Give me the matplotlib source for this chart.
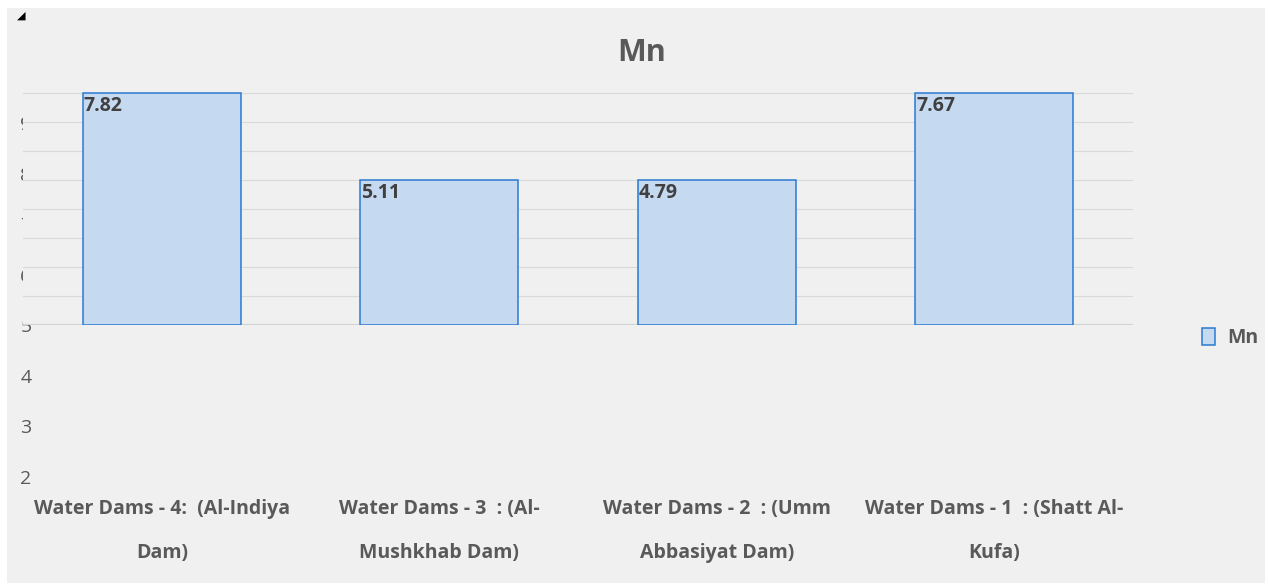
import matplotlib
matplotlib.use('Agg')
import matplotlib.pyplot as plt
from matplotlib.patches import Rectangle
import numpy as np

plt.rcParams['font.family'] = ['Open Sans', 'DejaVu Sans']

# data
categories = ['Water Dams - 4:  (Al-Indiya\nDam)',
              'Water Dams - 3  : (Al-\nMushkhab Dam)',
              'Water Dams - 2  : (Umm\nAbbasiyat Dam)',
              'Water Dams - 1  : (Shatt Al-\nKufa)']
mn_values = [7.82, 5.11, 4.79, 7.67]
bar_tops = [9.0, 7.5, 7.5, 9.0]      # drawn heights as they appear on the chart
base = 5.0
upper_grid = np.arange(5, 9.01, 0.5)
lower_ticks = [2, 3, 4, 5, 6, 7, 8, 9]

W, H = 1270, 584
fig = plt.figure(figsize=(W / 100, H / 100), dpi=100, facecolor='white')
fig.patches.append(Rectangle((7 / W, 1 - 583 / H), (1265 - 7) / W, (583 - 8) / H,
                             transform=fig.transFigure, facecolor='#f0f0f0',
                             edgecolor='none', zorder=-5))

grey = '#595959'
x = np.arange(len(categories))

# lower axes: tick labels and category labels
ax_lo = fig.add_axes([23 / W, 1 - 500 / H, (1133 - 23) / W, (500 - 85) / H])
ax_lo.set_facecolor('none')
ax_lo.set_xlim(-0.5, 3.5)
ax_lo.set_ylim(2 - 23 / 50.5, 5 + 240 / 50.5)
ax_lo.set_yticks(lower_ticks)
ax_lo.set_xticks(x)
ax_lo.set_xticklabels(categories, fontsize=14, fontweight='bold', color=grey,
                      linespacing=2.65)
ax_lo.tick_params(axis='y', length=0, pad=-6.2, labelsize=14, labelcolor=grey)
ax_lo.tick_params(axis='x', length=0, pad=-1)
for s in ax_lo.spines.values():
    s.set_visible(False)

# upper axes: bars and gridlines (covers the crowded tick labels)
ax = fig.add_axes([23 / W, 1 - 325 / H, (1133 - 23) / W, (325 - 85) / H])
ax.set_zorder(3)
ax.set_facecolor('#f0f0f0')
ax.set_xlim(-0.5, 3.5)
ax.set_ylim(5, 5 + 240 / 58)
for g in upper_grid[1:]:
    ax.axhline(g, color='#d9d9d9', lw=0.8, zorder=0)
ax.axhline(base, color='#d4d4d4', lw=1.6, zorder=0)
width = 0.57
bars = ax.bar(x, np.array(bar_tops) - base, bottom=base, width=width,
              color='#c5d9f1', edgecolor='#2b7bd0', linewidth=1.1, zorder=2,
              label='Mn')
for xi, top, v in zip(x, bar_tops, mn_values):
    ax.annotate(f'{v:.2f}', (xi - width / 2, top), xytext=(0.8, -2),
                textcoords='offset points', ha='left', va='top',
                fontsize=14, fontweight='bold', color='#404040', zorder=3)
ax.set_xticks([])
ax.set_yticks([])
for s in ax.spines.values():
    s.set_visible(False)

fig.text(642 / W, 1 - 53 / H, 'Mn', ha='center', va='center', fontsize=22,
         fontweight='bold', color=grey)
fig.text(21 / W, 1 - 16 / H, '\u25e2', ha='center', va='center', fontsize=8,
         color='black', family='DejaVu Sans')

fig.legend(handles=[bars], labels=['Mn'], loc='center left',
           bbox_to_anchor=(1192 / W, 1 - 338 / H), frameon=False,
           handlelength=0.7, handleheight=1.0, handletextpad=0.6,
           borderpad=0, prop={'size': 14, 'weight': 'bold'}, labelcolor=grey)

fig.savefig('out.png', dpi=100, facecolor=fig.get_facecolor())
